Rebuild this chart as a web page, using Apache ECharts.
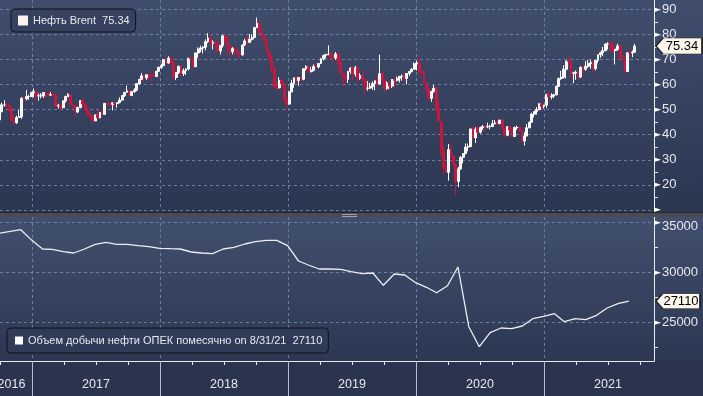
<!DOCTYPE html>
<html><head><meta charset="utf-8">
<script src="https://cdn.jsdelivr.net/npm/echarts@6/dist/echarts.min.js"></script>
<style>html,body{margin:0;padding:0;background:#2a344f;}#c{width:703px;height:396px;}</style>
</head><body><div id="c"></div>
<script>
// ---------------- DATA ----------------
const brentName = 'Нефть Brent';
const brentFirstFriday = '2016-09-16';
// weekly [open, high, low, close]
const brentOHLC = [
[47.0,47.5,45.5,45.8],[45.8,47.4,45.6,45.9],[45.9,49.4,45.1,49.2],[49.2,52.8,48.9,51.9],[51.9,53.7,51.2,51.9],[51.9,52.8,50.9,51.8],[51.8,51.9,49.3,49.7],[49.7,50.3,45.2,45.6],[45.6,47.2,44.2,44.8],[44.8,47.6,44.3,46.9],[46.9,49.9,46.8,47.2],[47.2,55.0,46.3,54.5],[54.5,55.4,53.0,54.3],[54.3,57.9,53.7,55.2],[55.2,55.9,53.9,55.2],[55.2,57.1,55.1,56.8],
[56.8,58.4,54.9,57.1],[57.1,57.3,53.6,55.5],[55.5,56.4,53.6,55.5],[55.5,56.6,54.5,55.5],[55.5,57.0,54.7,56.8],[56.8,57.1,54.6,56.7],[56.7,57.2,55.2,55.8],[55.8,57.0,55.5,56.0],[56.0,56.9,55.4,55.9],[55.9,56.4,51.4,51.4],[51.4,52.3,50.4,51.8],[51.8,52.1,49.7,50.8],[50.8,53.6,50.5,53.5],[53.5,55.6,52.8,55.2],[55.2,56.6,55.1,55.9],[55.9,56.1,51.9,51.9],[51.9,52.3,50.6,51.7],[51.7,51.9,47.6,49.1],[49.1,51.2,48.6,50.8],[50.8,53.8,50.6,53.6],[53.6,54.6,51.3,52.2],[52.2,52.9,49.6,49.9],[49.9,50.6,47.4,48.2],[48.2,48.7,46.6,47.4],[47.4,47.5,44.4,45.5],[45.5,48.0,45.5,47.9],[47.9,50.0,46.5,46.7],[46.7,48.9,46.6,48.9],[48.9,50.2,47.9,48.1],[48.1,52.6,48.0,52.5],[52.5,52.9,51.4,52.4],[52.4,53.0,51.1,52.1],[52.1,52.3,49.7,52.7],[52.7,52.8,51.0,52.4],[52.4,53.0,50.8,52.8],[52.8,54.9,52.5,53.8],[53.8,55.7,53.4,55.6],[55.6,56.9,55.0,56.9],[56.9,59.5,56.8,57.5],[57.5,57.7,55.6,55.6],[55.6,57.2,55.4,57.2],[57.2,58.5,56.6,57.8],[57.8,60.5,57.3,60.4],[60.4,62.1,59.9,62.1],[62.1,64.6,61.9,63.5],[63.5,63.8,61.1,62.7],[62.7,63.9,61.9,63.9],[63.9,64.0,61.9,63.7],[63.7,64.0,61.3,63.4],[63.4,65.8,62.9,63.2],[63.2,65.3,63.2,65.3],[65.3,67.1,65.2,66.9],
[66.9,68.3,66.2,67.6],[67.6,70.1,67.3,69.9],[69.9,70.4,68.3,68.6],[68.6,71.3,68.3,70.5],[70.5,70.7,68.1,68.6],[68.6,68.9,62.5,62.8],[62.8,64.9,61.8,64.8],[64.8,67.5,64.2,67.3],[67.3,67.8,63.2,64.4],[64.4,66.4,63.4,65.5],[65.5,66.5,63.8,66.2],[66.2,70.6,65.6,70.5],[70.5,71.3,69.1,70.3],[70.3,70.4,66.6,67.1],[67.1,72.7,67.0,72.6],[72.6,74.8,70.7,74.1],[74.1,75.5,72.9,74.6],[74.6,75.2,72.4,74.9],[74.9,78.0,73.6,77.1],[77.1,80.5,76.5,78.5],[78.5,80.3,75.6,76.4],[76.4,77.6,74.0,76.8],[76.8,77.8,74.3,76.5],[76.5,77.0,72.6,73.4],[73.4,75.6,72.0,75.6],[75.6,79.9,74.7,79.4],[79.4,79.8,76.6,77.1],[77.1,79.3,72.2,75.3],[75.3,75.6,71.2,73.1],[73.1,74.9,72.0,74.3],[74.3,75.3,71.8,73.2],[73.2,74.8,71.2,72.8],[72.8,73.2,70.3,71.8],[71.8,75.8,71.6,75.8],[75.8,78.2,75.4,77.4],[77.4,79.7,75.8,76.8],[76.8,80.1,76.7,78.1],[78.1,80.0,77.5,78.8],[78.8,83.0,78.6,82.7],[82.7,86.7,82.6,84.2],[84.2,85.2,79.9,80.4],[80.4,81.9,78.9,79.8],[79.8,80.0,75.1,77.6],[77.6,77.9,72.5,72.8],[72.8,74.0,69.6,70.2],[70.2,71.6,64.6,66.8],[66.8,67.0,58.4,58.8],[58.8,61.3,57.5,58.7],[58.7,63.0,58.4,61.7],[61.7,62.0,59.3,60.3],[60.3,60.9,53.4,53.8],[53.8,55.0,50.0,52.2],
[52.2,57.2,52.0,57.1],[57.1,61.9,56.9,60.5],[60.5,62.8,58.7,62.7],[62.7,62.9,60.4,61.6],[61.6,63.0,59.5,62.8],[62.8,63.0,61.3,62.1],[62.1,66.3,61.7,66.3],[66.3,67.7,65.6,67.1],[67.1,67.3,64.6,65.1],[65.1,67.0,64.9,65.7],[65.7,68.0,65.3,67.2],[67.2,68.7,66.4,67.0],[67.0,68.5,66.5,68.4],[68.4,70.5,68.2,70.3],[70.3,71.9,69.6,71.6],[71.6,72.3,70.4,71.9],[71.9,75.6,71.7,72.2],[72.2,73.0,70.1,70.9],[70.9,72.2,68.8,70.6],[70.6,73.0,69.8,72.2],[72.2,72.9,67.2,68.7],[68.7,70.5,64.3,64.5],[64.5,64.6,59.5,63.3],[63.3,63.5,59.7,62.0],[62.0,65.5,60.6,65.2],[65.2,66.7,64.3,66.6],[66.6,67.2,61.6,64.2],[64.2,67.5,63.2,66.7],[66.7,67.2,61.3,62.5],[62.5,64.5,61.9,63.5],[63.5,65.8,60.0,61.9],[61.9,62.3,55.9,58.5],[58.5,61.4,57.5,58.6],[58.6,60.7,58.2,59.3],[59.3,61.2,57.9,60.4],[60.4,61.0,57.7,61.5],[61.5,63.1,59.9,60.2],[60.2,71.9,60.1,64.3],[64.3,65.2,61.3,61.9],[61.9,62.0,56.9,58.4],[58.4,61.3,57.9,60.5],[60.5,60.9,57.6,59.4],[59.4,62.2,58.6,62.0],[62.0,62.0,58.7,61.7],[61.7,63.2,61.2,62.5],[62.5,63.3,60.8,63.3],[63.3,64.0,61.5,63.4],[63.4,64.7,61.1,62.4],[62.4,64.4,60.1,64.4],[64.4,65.2,63.4,65.2],[65.2,66.5,64.8,66.1],[66.1,68.9,66.0,68.2],
[68.2,69.5,65.6,68.6],[68.6,71.8,64.4,65.0],[65.0,65.2,63.8,64.9],[64.9,65.7,60.6,60.7],[60.7,60.9,57.2,58.2],[58.2,58.7,53.8,54.5],[54.5,57.4,53.1,57.3],[57.3,59.8,56.7,58.5],[58.5,59.2,49.5,50.5],[50.5,53.8,45.1,45.3],[45.3,45.4,31.0,33.9],[33.9,35.8,24.5,27.0],[27.0,28.5,24.9,25.0],[25.0,36.3,21.7,34.1],[34.1,36.9,30.5,31.5],[31.5,32.2,27.5,28.1],[28.1,28.3,16.0,21.4],[21.4,27.2,19.1,26.4],[26.4,31.5,26.0,31.0],[31.0,32.6,28.6,32.5],[32.5,36.5,32.2,35.1],[35.1,36.5,33.4,35.3],[35.3,42.4,35.0,42.3],[42.3,43.4,37.8,38.7],[38.7,43.0,36.7,42.2],[42.2,43.7,40.4,41.0],[41.0,43.2,40.4,42.8],[42.8,43.9,41.9,43.2],[43.2,43.9,41.5,43.1],[43.1,44.8,42.6,43.3],[43.3,44.0,42.1,43.3],[43.3,45.9,43.0,44.4],[44.4,45.9,44.1,44.8],[44.8,46.0,44.0,44.4],[44.4,46.0,44.3,45.8],[45.8,46.2,41.9,42.7],[42.7,42.8,39.3,39.8],[39.8,43.4,39.4,43.2],[43.2,43.3,40.9,41.9],[41.9,42.8,38.7,39.3],[39.3,43.2,39.2,42.9],[42.9,43.6,42.0,42.9],[42.9,43.4,41.1,41.8],[41.8,42.0,36.9,37.5],[37.5,41.0,35.7,39.5],[39.5,44.3,39.4,42.8],[42.8,45.0,42.5,45.0],[45.0,48.8,44.9,48.2],[48.2,49.3,46.9,49.3],[49.3,51.0,48.0,50.0],[50.0,52.5,49.8,52.3],[52.3,52.6,49.4,51.3],
[51.3,51.9,50.4,51.8],[51.8,56.3,50.7,56.0],[56.0,57.4,54.6,55.1],[55.1,56.5,54.1,55.4],[55.4,56.3,54.6,55.9],[55.9,59.6,55.7,59.3],[59.3,62.8,59.0,62.4],[62.4,65.5,61.8,62.9],[62.9,67.7,62.4,66.1],[66.1,69.4,62.4,69.4],[69.4,71.4,67.2,69.2],[69.2,69.8,62.5,64.5],[64.5,65.1,60.5,64.6],[64.6,65.6,61.9,64.9],[64.9,64.9,61.9,63.0],[63.0,67.3,62.6,66.8],[66.8,67.4,64.4,66.1],[66.1,69.3,65.5,67.3],[67.3,69.8,66.6,68.3],[68.3,69.9,66.3,68.7],[68.7,69.5,64.6,66.4],[66.4,69.6,65.6,69.6],[69.6,72.0,68.5,71.9],[71.9,73.1,70.7,72.7],[72.7,75.0,71.3,73.5],[73.5,76.2,73.3,76.2],[76.2,76.9,74.0,76.2],[76.2,77.8,73.1,75.6],[75.6,76.5,72.3,73.6],[73.6,73.8,68.0,74.1],[74.1,76.3,73.5,75.4],[75.4,75.8,69.7,70.7],[70.7,71.8,68.8,70.6],[70.6,71.2,64.6,65.2],[65.2,72.7,65.1,72.7],[72.7,73.8,70.6,72.6],[72.6,73.6,70.9,72.9],[72.9,76.2,72.6,75.34]
];
const opecName = 'Объем добычи нефти ОПЕК помесячно';
const opecAsOf = '8/31/21';
const opecMonths = [
'2016-09','2016-10','2016-11','2016-12',
'2017-01','2017-02','2017-03','2017-04','2017-05','2017-06','2017-07','2017-08','2017-09','2017-10','2017-11','2017-12',
'2018-01','2018-02','2018-03','2018-04','2018-05','2018-06','2018-07','2018-08','2018-09','2018-10','2018-11','2018-12',
'2019-01','2019-02','2019-03','2019-04','2019-05','2019-06','2019-07','2019-08','2019-09','2019-10','2019-11','2019-12',
'2020-01','2020-02','2020-03','2020-04','2020-05','2020-06','2020-07','2020-08','2020-09','2020-10','2020-11','2020-12',
'2021-01','2021-02','2021-03','2021-04','2021-05','2021-06','2021-07','2021-08'];
const opecValues = [
33900,34090,34260,33220,
32330,32300,32060,31930,32330,32800,33000,32800,32800,32660,32560,32400,
32360,32330,32030,31930,31860,32330,32500,32830,33060,33200,33200,32660,
31130,30730,30330,30330,30300,30060,29860,29930,28700,29830,29730,28960,
28500,27960,28660,30530,24560,22560,23960,24430,24360,24630,25360,25600,
25860,25060,25360,25260,25700,26430,26860,27110];
// axis ticks / labels
const priceTickValues = [10,15,20,25,30,35,40,45,50,55,60,65,70,75,80,85,90];
const priceLabelValues = [10,20,30,40,50,60,70,80,90];
const opecTickValues = [22500,25000,27500,30000,32500,35000];
const opecLabelValues = [25000,30000,35000];
const yearBounds = [2017,2018,2019,2020,2021];
const yearLabels = ['2016','2017','2018','2019','2020','2021'];

// ---------------- HELPERS ----------------
function fracYear(ms){
  const d = new Date(ms); const y = d.getUTCFullYear();
  const s = Date.UTC(y,0,1), e = Date.UTC(y+1,0,1);
  return y + (ms - s)/(e - s);
}
const X_MIN = 2016.75, X_MAX = 2016.75 + 654/128;
const f0 = Date.parse(brentFirstFriday + 'T00:00:00Z');
const brentData = brentOHLC.map((r,i)=>[fracYear(f0 + i*7*864e5), r[0], r[3], r[2], r[1]]);
const opecData = opecMonths.map((m,i)=>{
  const y = +m.slice(0,4), mo = +m.slice(5,7);
  return [fracYear(Date.UTC(y, mo, 0)), opecValues[i]];
});
const lastBrent = brentOHLC[brentOHLC.length-1][3];
const lastOpec = opecValues[opecValues.length-1];
const quarterTicks = [];
yearBounds.forEach(y=>{ [0.25,0.5,0.75].forEach(q=>{ if (y+q < X_MAX) quarterTicks.push(y+q); }); });
quarterTicks.unshift(2016.75);
const yearLabelPos = [2016.84].concat(yearBounds.map(y=>y+0.5));

const FONT = '"Liberation Sans", Arial, sans-serif';
const TXT = '#e6e8ef';
const SPLIT = { show: true, lineStyle: { color: 'rgba(118,144,180,0.8)', type: [3,3], width: 1 } };
const AXLINE = '#e8eaf0';
const tagPath = 'path://M0 8 L7 0 L46 0 L46 16 L7 16 Z';

const chart = echarts.init(document.getElementById('c'), null, {renderer:'canvas', width:703, height:396});
chart.setOption({
  animation: false,
  backgroundColor: '#2a344f',
  textStyle: { fontFamily: FONT },
  graphic: { elements: [
    { type:'rect', z:-100, silent:true, shape:{x:0,y:0,width:703,height:212},
      style:{ fill:{type:'linear',x:0,y:0,x2:0,y2:1,colorStops:[{offset:0,color:'#404d6c'},{offset:1,color:'#2b3651'}]} } },
    { type:'rect', z:-100, silent:true, shape:{x:0,y:217,width:703,height:144},
      style:{ fill:{type:'linear',x:0,y:0,x2:0,y2:1,colorStops:[{offset:0,color:'#414f6e'},{offset:1,color:'#2c3752'}]} } },
    { type:'rect', z:100, silent:true, shape:{x:0,y:212,width:703,height:5}, style:{ fill:'#484b53' } },
    { type:'line', z:101, silent:true, shape:{x1:0,y1:212.5,x2:703,y2:212.5}, style:{ stroke:'#25272d', lineWidth:1 } },
    { type:'line', z:101, silent:true, shape:{x1:342,y1:214.5,x2:357,y2:214.5}, style:{ stroke:'#9ca1ab', lineWidth:1 } },
    { type:'line', z:101, silent:true, shape:{x1:342,y1:216.5,x2:357,y2:216.5}, style:{ stroke:'#9ca1ab', lineWidth:1 } }
  ]},
  legend: [
    { data:[{ name: brentName, icon:'rect', itemStyle:{ color:'#fdf1ee', borderWidth:0 } }],
      left: 11, top: 9, padding:[6,6,6,7], itemWidth:10, itemHeight:10, selectedMode:false,
      backgroundColor:'#35415e', borderColor:'#0e1219', borderWidth:1, borderRadius:4,
      textStyle:{ color: TXT, fontSize: 11, fontFamily: FONT },
      formatter: n => n + '  ' + lastBrent.toFixed(2) },
    { data:[{ name: opecName, icon:'rect', itemStyle:{ color:'#ffffff', borderWidth:0 } }],
      left: 7, top: 328, padding:[7,6,7,8], itemWidth:8, itemHeight:8, selectedMode:false,
      backgroundColor:'#2f3b57', borderColor:'#0e1219', borderWidth:1, borderRadius:4,
      textStyle:{ color: TXT, fontSize: 11, fontFamily: FONT },
      formatter: n => n + ' on ' + opecAsOf + '  ' + lastOpec }
  ],
  grid: [
    { left:0, right:49, top:0, height:210, outerBoundsMode:'none', containLabel:false },
    { left:0, right:49, top:217, height:144, outerBoundsMode:'none', containLabel:false }
  ],
  xAxis: [
    { gridIndex:0, type:'value', min:X_MIN, max:X_MAX,
      axisLine:{show:false}, axisTick:{show:false, customValues: yearBounds}, axisLabel:{show:false},
      splitLine: SPLIT },
    { gridIndex:1, type:'value', position:'bottom', min:X_MIN, max:X_MAX,
      axisLine:{show:false},
      axisTick:{show:true, length:35, customValues: yearBounds, lineStyle:{color:'#b4bbc9', width:1}},
      axisLabel:{show:true, customValues: yearLabelPos, margin:17, color: TXT, fontSize: 12.5, fontFamily: FONT,
        formatter: v => yearLabels[Math.floor(v + 1e-9) - 2016] },
      splitLine: SPLIT },
    { gridIndex:1, type:'value', position:'bottom', min:X_MIN, max:X_MAX,
      axisLine:{show:true, lineStyle:{color: AXLINE, width:1}},
      axisTick:{show:true, length:4, customValues: quarterTicks, lineStyle:{color: AXLINE}},
      axisLabel:{show:false}, splitLine:{show:false} }
  ],
  yAxis: [
    { gridIndex:0, type:'value', position:'right', min:10, max:93.7, interval:5,
      axisLine:{show:true, lineStyle:{color: AXLINE, width:1}},
      axisTick:{show:true, length:4, customValues: priceTickValues, lineStyle:{color: AXLINE}},
      axisLabel:{show:true, customValues: priceLabelValues, margin:0,
        formatter: v => Math.abs(v % 10) > 1e-6 ? '' : (v === 10 ? '{a|►}' : '{a|►}{v|' + v + '}'),
        rich:{ a:{ fontFamily:'DejaVu Sans', fontSize:9, color:'#ffffff' },
               v:{ fontFamily: FONT, fontSize: 13, color: TXT, padding:[0,0,0,1] } } },
      splitLine:{show:false} },
    { gridIndex:0, type:'value', position:'left', min:10, max:93.7, interval:10,
      axisLine:{show:false}, axisTick:{show:false}, axisLabel:{show:false},
      splitLine: Object.assign({ showMaxLine:false }, SPLIT) },
    { gridIndex:1, type:'value', position:'right', min:21130, max:35530,
      axisLine:{show:true, lineStyle:{color: AXLINE, width:1}},
      axisTick:{show:true, length:4, customValues: opecTickValues, lineStyle:{color: AXLINE}},
      axisLabel:{show:true, customValues: opecLabelValues, margin:0,
        formatter: v => v === 35000 ? '{a|►}{w|' + v + '}' : '{a|►}{v|' + v + '}',
        rich:{ a:{ fontFamily:'DejaVu Sans', fontSize:9, color:'#ffffff' },
               v:{ fontFamily: FONT, fontSize: 13, color: TXT, padding:[0,0,0,1] },
               w:{ fontFamily: FONT, fontSize: 13, color: TXT, padding:[9,0,0,1] } } },
      splitLine:{show:false} },
    { gridIndex:1, type:'value', position:'left', min:21130, max:35530,
      axisLine:{show:false}, axisTick:{show:false, customValues: opecLabelValues}, axisLabel:{show:false},
      splitLine: SPLIT }
  ],
  series: [
    { type:'candlestick', name: brentName, xAxisIndex:0, yAxisIndex:0,
      dimensions:['t','open','close','lowest','highest'], encode:{ x:0, y:[1,2,3,4] },
      data: brentData, barWidth: 2.4, clip:true,
      itemStyle:{ color:'#f7f2f2', borderColor:'#ffffff', color0:'#c8173f', borderColor0:'#c8173f', borderWidth:1 },
      markPoint:{ silent:true, symbol: tagPath, symbolSize:[46,16], symbolOffset:[25,0],
        itemStyle:{ color:'#fdf6ea', borderColor:'#222222', borderWidth:1 },
        label:{ show:true, position:'inside', offset:[3,0], color:'#000000', fontSize: 13, fontFamily: FONT,
          formatter: () => lastBrent.toFixed(2) },
        data:[{ coord:[X_MAX, lastBrent] }] } },
    { type:'line', name: opecName, xAxisIndex:1, yAxisIndex:2, data: opecData,
      symbol:'none', showSymbol:false, lineStyle:{ color:'#eceef3', width:1.3 }, itemStyle:{ color:'#ffffff' },
      markPoint:{ silent:true, symbol: tagPath, symbolSize:[44,15], symbolOffset:[24,0],
        itemStyle:{ color:'#fdf6ea', borderColor:'#222222', borderWidth:1 },
        label:{ show:true, position:'inside', offset:[3,0], color:'#000000', fontSize: 13, fontFamily: FONT,
          formatter: () => String(lastOpec) },
        data:[{ coord:[X_MAX, lastOpec] }] } }
  ]
});
</script>
</body></html>
